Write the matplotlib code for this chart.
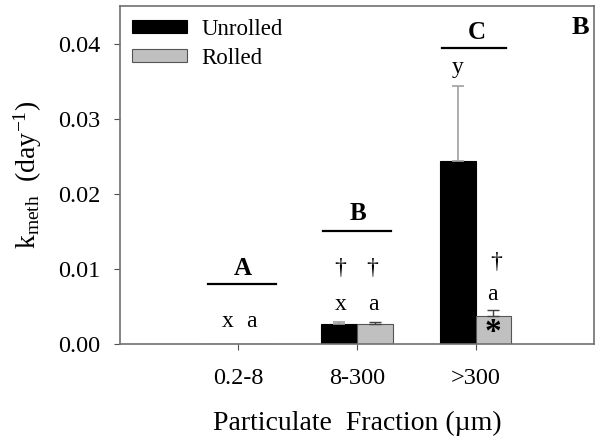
import numpy as np
import matplotlib
matplotlib.use("Agg")
import matplotlib.pyplot as plt

plt.rcParams['font.family'] = ['Liberation Serif', 'DejaVu Serif']
plt.rcParams['mathtext.fontset'] = 'custom'
plt.rcParams['mathtext.rm'] = 'Liberation Serif'
plt.rcParams['mathtext.it'] = 'Liberation Serif'

# data
fractions = ['0.2-8', '8-300', '>300']
unrolled = [0.0, 0.0026, 0.0244]
unrolled_err = [0.0, 0.0003, 0.0100]
rolled = [0.0, 0.0026, 0.0037]
rolled_err = [0.0, 0.0003, 0.0008]

# significance letters: (text, x, y)
group_letters = [('A', 1.04, 0.0101), ('B', 2.01, 0.0174), ('C', 3.01, 0.0415)]
group_lines = [(0.74, 1.32, 0.0080), (1.71, 2.29, 0.0150), (2.715, 3.255, 0.0394)]
small_letters = [('x', 0.91, 0.0030), ('a', 1.11, 0.0030),
                 ('x', 1.86, 0.0053), ('a', 2.14, 0.0053),
                 ('y', 2.85, 0.0368), ('a', 3.145, 0.0066)]
daggers = [(1.86, 0.0101), (2.13, 0.0101), (3.17, 0.0108)]

fig = plt.figure(figsize=(6.02, 4.43), dpi=100)
ax = fig.add_axes([0.199, 0.2235, 0.788, 0.763])

x = np.arange(1, len(fractions) + 1)
w = 0.3
ax.bar(x - w / 2, unrolled, w, color='black', edgecolor='black', linewidth=0.8, label='Unrolled')
ax.bar(x + w / 2, rolled, w, color='#c0c0c0', edgecolor='#555555', linewidth=0.8, label='Rolled')

for i in range(1, len(fractions)):
    ax.errorbar(x[i] - w / 2, unrolled[i], yerr=[[0], [unrolled_err[i]]],
                fmt='none', ecolor='#a0a0a0', elinewidth=1.2, capsize=4, capthick=1.2)
    ax.errorbar(x[i] + w / 2, rolled[i], yerr=[[0], [rolled_err[i]]],
                fmt='none', ecolor='#404040', elinewidth=1, capsize=4, capthick=1)

for txt, tx, ty in group_letters:
    ax.text(tx, ty, txt, ha='center', va='center', fontsize=18, fontweight='bold')
for x0, x1, ly in group_lines:
    ax.plot([x0, x1], [ly, ly], color='black', lw=1.6)
for txt, tx, ty in small_letters:
    ax.text(tx, ty, txt, ha='center', va='center', fontsize=17)
for tx, ty in daggers:
    ax.text(tx, ty, '\u2020', ha='center', va='center', fontsize=17)
ax.text(3.145, 0.0015, '*', ha='center', va='center', fontsize=24, fontweight='bold')

ax.text(3.88, 0.0422, 'B', ha='center', va='center', fontsize=19, fontweight='bold')

ax.set_xlim(0, 4)
ax.set_ylim(0, 0.045)
ax.set_xticks(x)
ax.set_xticklabels(fractions, fontsize=17.5)
ax.set_yticks([0, 0.01, 0.02, 0.03, 0.04])
ax.set_yticklabels(['0.00', '0.01', '0.02', '0.03', '0.04'], fontsize=17.5)
ax.tick_params(direction='out', length=4, color='#505050')
ax.tick_params(axis='y', pad=10)
ax.tick_params(axis='x', pad=13)
for s in ax.spines.values():
    s.set_color('#707070')
    s.set_linewidth(1.2)

ax.set_xlabel('Particulate  Fraction (\u00b5m)', fontsize=20, labelpad=16)
ax.set_ylabel('k$_{\\mathrm{meth}}$  (day$^{-1}$)', fontsize=20, labelpad=10)

ax.legend(loc='upper left', frameon=False, fontsize=16.5, handlelength=2.4,
          handleheight=0.5, handletextpad=0.6, borderaxespad=0.15, labelspacing=0.35)

fig.savefig('out.png', dpi=100)
